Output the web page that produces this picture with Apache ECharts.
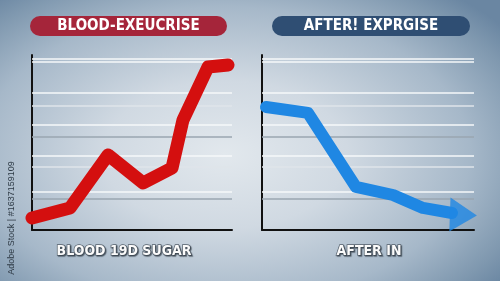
<!DOCTYPE html>
<html>
<head>
<meta charset="utf-8">
<script src="https://cdn.jsdelivr.net/npm/echarts@6/dist/echarts.min.js"></script>
<style>
html,body{margin:0;padding:0;}
#c{width:500px;height:281px;background:radial-gradient(ellipse 70% 75% at 45% 55%, #e2e8ed 0%, #d0d9e2 35%, #a6b8c9 70%, #7f98af 90%, #6a86a2 100%);}
</style>
</head>
<body>
<div id="c"></div>
<script>
// Left chart: blood sugar during exercise (rising red line)
var leftX = [0, 19, 38, 55.5, 70, 75.5, 88, 98];
var leftY = [6.9, 12.6, 42.9, 26.9, 35.4, 62.9, 93.1, 94.3];
// Right chart: after exercise (falling blue arrow)
var rightX = [1.9, 21.7, 44.3, 61.8, 75.9, 89.6];
var rightY = [70.3, 66.9, 24.6, 20, 12.6, 9.7];
var arrowHead = [95, 8.6];
// Horizontal guide lines (value levels) and their tone
var gridLevels = [97.7, 96, 78.3, 70.9, 60, 53.1, 42.3, 36, 21.7, 17.7];
var gridTones  = ['w', 'w', 'w', 'l', 'w', 'g', 'w', 'l', 'w', 'g'];
// Texts
var titleLeft = 'BLOOD-EXEUCRISE';
var titleRight = 'AFTER! EXPRGISE';
var labelLeft = 'BLOOD 19D SUGAR';
var labelRight = 'AFTER IN';
var watermark = 'Adobe Stock | #1637159109';

var toneColor = {w: '#f6f8fa', l: '#dfe5ea', g: '#9aa6b1'};
function zip(xs, ys){ return xs.map(function(x,i){ return [x, ys[i]]; }); }
function guideLines(){
  return gridLevels.map(function(v,i){
    return {yAxis: v, lineStyle: {color: toneColor[gridTones[i]], width: 1.5, type: 'solid'}};
  });
}
var font = '"DejaVu Sans Condensed", "Liberation Sans Narrow", "DejaVu Sans", sans-serif';

var chart = echarts.init(document.getElementById('c'), null, {renderer: 'canvas'});
var axisX = function(idx){ return {type:'value', gridIndex: idx, min:0, max:100, axisLine:{show:true, lineStyle:{color:'#111', width:2}}, axisTick:{show:false}, axisLabel:{show:false}, splitLine:{show:false}}; };
var axisY = function(idx){ return {type:'value', gridIndex: idx, min:0, max:100, axisLine:{show:true, lineStyle:{color:'#111', width:2}}, axisTick:{show:false}, axisLabel:{show:false}, splitLine:{show:false}}; };

chart.setOption({
  backgroundColor: 'transparent',
  animation: false,
  grid: [
    {left: 32, top: 55, width: 200, height: 175},
    {left: 262, top: 55, width: 212, height: 175}
  ],
  xAxis: [axisX(0), axisX(1)],
  yAxis: [axisY(0), axisY(1)],
  series: [
    {type:'line', xAxisIndex:0, yAxisIndex:0, data:[], z:1, silent:true,
     markLine:{silent:true, symbol:['none','none'], label:{show:false}, data: guideLines()}},
    {type:'line', xAxisIndex:1, yAxisIndex:1, data:[], z:1, silent:true,
     markLine:{silent:true, symbol:['none','none'], label:{show:false}, data: guideLines()}},
    {type:'line', xAxisIndex:0, yAxisIndex:0, data: zip(leftX, leftY), z:5,
     symbol:'none', lineStyle:{color:'#d40f0f', width:13, cap:'round', join:'round'}},
    {type:'line', xAxisIndex:1, yAxisIndex:1, data: zip(rightX, rightY), z:5,
     symbol:'none', lineStyle:{color:'#1f87e3', width:12, cap:'round', join:'round'}},
    {type:'scatter', xAxisIndex:1, yAxisIndex:1, data:[arrowHead], z:6,
     symbol:'triangle', symbolSize:[34, 27], symbolRotate:-92,
     itemStyle:{color:'#1f87e3'}}
  ],
  graphic: [
    {type:'rect', shape:{x:30, y:16, width:197, height:20, r:10}, style:{fill:'#a5253a'}},
    {type:'text', x:128.5, y:26, style:{text:titleLeft, fill:'#fff', font:'bold 15px '+font, align:'center', verticalAlign:'middle'}},
    {type:'rect', shape:{x:272, y:16, width:198, height:20, r:10}, style:{fill:'#2f4e73'}},
    {type:'text', x:371, y:26, style:{text:titleRight, fill:'#fff', font:'bold 15px '+font, align:'center', verticalAlign:'middle'}},
    {type:'text', x:124, y:251, style:{text:labelLeft, fill:'#fbfbfb', stroke:'#56616c', lineWidth:1.5, font:'bold 14px '+font, align:'center', verticalAlign:'middle', textShadowColor:'rgba(40,50,60,0.6)', textShadowOffsetX:1, textShadowOffsetY:1, textShadowBlur:1}},
    {type:'text', x:369, y:251, style:{text:labelRight, fill:'#fbfbfb', stroke:'#56616c', lineWidth:1.5, font:'bold 14px '+font, align:'center', verticalAlign:'middle', textShadowColor:'rgba(40,50,60,0.6)', textShadowOffsetX:1, textShadowOffsetY:1, textShadowBlur:1}},
    {type:'text', x:12, y:218, rotation:Math.PI/2, style:{text:watermark, fill:'#2e3a45', font:'9px "Liberation Sans", sans-serif', align:'center', verticalAlign:'middle'}}
  ]
});
</script>
</body>
</html>
